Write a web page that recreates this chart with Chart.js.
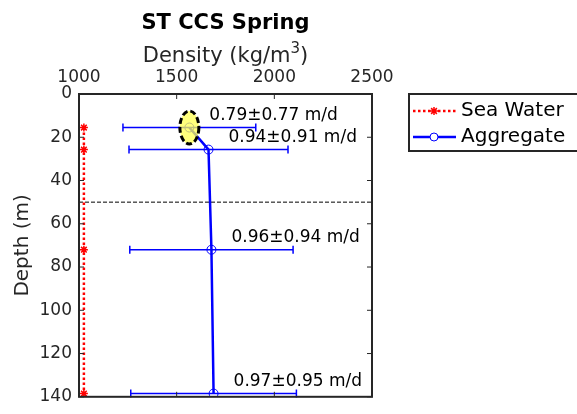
<!DOCTYPE html>
<html lang="en">
<head>
  <meta charset="UTF-8" />
  <title>ST CCS Spring</title>
  <style>
    html, body { margin: 0; padding: 0; background: #fff; }
    #wrap { position: relative; width: 577px; height: 414px; }
  </style>
  <script src="https://cdn.jsdelivr.net/npm/chart.js"></script>
</head>
<body>
  <div id="wrap"><canvas id="grafico"></canvas></div>

  <script>
    // sample depths (m)
    const depths = [15.5, 25.7, 72, 138.5];
    // sea water density (kg/m3)
    const seaDensity = [1025, 1025, 1025, 1025];
    // aggregate density and its spread (kg/m3)
    const aggDensity = [1565, 1663, 1678, 1689];
    const aggDensityErr = [340, 407, 418, 424];
    // sinking speed (m/d)
    const speedMean = [0.79, 0.94, 0.96, 0.97];
    const speedErr = [0.77, 0.91, 0.94, 0.95];
    const xTicks = [1000, 1500, 2000, 2500];
    const yTicks = [0, 20, 40, 60, 80, 100, 120, 140];
    const mixedLayerDepth = 50;
    const highlightIndex = 0;

    const FONT = "'DejaVu Sans', sans-serif";
    const AXIS = '#262626';
    const BLUE = '#0000ff';
    const RED = '#ff0000';

    function drawStar(ctx, cx, cy, r) {
      ctx.beginPath();
      ctx.moveTo(cx - r, cy); ctx.lineTo(cx + r, cy);
      ctx.moveTo(cx, cy - r); ctx.lineTo(cx, cy + r);
      const d = r * 0.72;
      ctx.moveTo(cx - d, cy - d); ctx.lineTo(cx + d, cy + d);
      ctx.moveTo(cx - d, cy + d); ctx.lineTo(cx + d, cy - d);
      ctx.stroke();
    }

    const extras = {
      id: 'extras',
      beforeDatasetsDraw(chart) {
        const { ctx, chartArea: a, scales: { x, y } } = chart;
        ctx.save();
        // title over the axes, centred on the plot box
        const cx = (a.left + a.right) / 2;
        ctx.fillStyle = '#000';
        ctx.textBaseline = 'alphabetic';
        ctx.textAlign = 'center';
        ctx.font = 'bold 21px ' + FONT;
        ctx.fillText('ST CCS Spring', cx, 29);

        // x axis label with a raised 3
        ctx.fillStyle = AXIS;
        ctx.textAlign = 'left';
        const big = '21px ' + FONT, small = '15px ' + FONT;
        ctx.font = big;
        const w1 = ctx.measureText('Density (kg/m').width;
        const w3 = ctx.measureText(')').width;
        ctx.font = small;
        const w2 = ctx.measureText('3').width;
        let tx = cx - (w1 + w2 + w3) / 2;
        ctx.font = big;
        ctx.fillText('Density (kg/m', tx, 62);
        tx += w1;
        ctx.font = small;
        ctx.fillText('3', tx, 53);
        tx += w2;
        ctx.font = big;
        ctx.fillText(')', tx, 62);

        // dashed mixed layer line
        const yl = y.getPixelForValue(mixedLayerDepth);
        ctx.strokeStyle = '#000';
        ctx.lineWidth = 1;
        ctx.setLineDash([4, 2]);
        ctx.beginPath();
        ctx.moveTo(a.left, yl); ctx.lineTo(a.right, yl);
        ctx.stroke();
        ctx.setLineDash([]);

        // error bars
        ctx.strokeStyle = BLUE;
        ctx.lineWidth = 1.5;
        aggDensity.forEach((d, i) => {
          const py = y.getPixelForValue(depths[i]);
          const x0 = x.getPixelForValue(d - aggDensityErr[i]);
          const x1 = x.getPixelForValue(d + aggDensityErr[i]);
          ctx.beginPath();
          ctx.moveTo(x0, py); ctx.lineTo(x1, py);
          ctx.moveTo(x0, py - 4); ctx.lineTo(x0, py + 4);
          ctx.moveTo(x1, py - 4); ctx.lineTo(x1, py + 4);
          ctx.stroke();
        });
        ctx.restore();
      },
      afterDatasetsDraw(chart) {
        const { ctx, chartArea: a, scales: { x, y } } = chart;
        ctx.save();

        // highlight ellipse on the shallowest sample
        const ex = x.getPixelForValue(aggDensity[highlightIndex]);
        const ey = y.getPixelForValue(depths[highlightIndex]);
        ctx.beginPath();
        ctx.ellipse(ex, ey, 9.5, 16.5, 0, 0, Math.PI * 2);
        ctx.fillStyle = 'rgba(255, 255, 80, 0.75)';
        ctx.fill();
        ctx.setLineDash([6, 3]);
        ctx.lineWidth = 3;
        ctx.strokeStyle = '#000';
        ctx.stroke();
        ctx.setLineDash([]);

        // speed labels
        ctx.fillStyle = '#000';
        ctx.font = '17px ' + FONT;
        ctx.textAlign = 'left';
        ctx.textBaseline = 'middle';
        speedMean.forEach((v, i) => {
          const px = x.getPixelForValue(aggDensity[i]) + 20;
          const py = y.getPixelForValue(depths[i]) - 12;
          ctx.fillText(v.toFixed(2) + '\u00b1' + speedErr[i].toFixed(2) + ' m/d', px, py);
        });

        // frame and inward ticks
        ctx.strokeStyle = AXIS;
        ctx.lineWidth = 1;
        ctx.beginPath();
        xTicks.forEach(t => {
          const px = x.getPixelForValue(t);
          ctx.moveTo(px, a.top); ctx.lineTo(px, a.top + 5);
          ctx.moveTo(px, a.bottom); ctx.lineTo(px, a.bottom - 5);
        });
        yTicks.forEach(t => {
          const py = y.getPixelForValue(t);
          ctx.moveTo(a.left, py); ctx.lineTo(a.left + 5, py);
          ctx.moveTo(a.right, py); ctx.lineTo(a.right - 5, py);
        });
        ctx.stroke();
        ctx.lineWidth = 2;
        ctx.strokeRect(a.left, a.top, a.right - a.left, a.bottom - a.top);

        // legend
        ctx.strokeRect(409, 94, 200, 57);
        ctx.strokeStyle = RED;
        ctx.lineWidth = 2.5;
        ctx.setLineDash([2.5, 2.5]);
        ctx.beginPath();
        ctx.moveTo(413, 111); ctx.lineTo(456, 111);
        ctx.stroke();
        ctx.setLineDash([]);
        ctx.lineWidth = 1.5;
        drawStar(ctx, 434, 111, 4);
        ctx.strokeStyle = BLUE;
        ctx.lineWidth = 2.5;
        ctx.beginPath();
        ctx.moveTo(413, 137); ctx.lineTo(456, 137);
        ctx.stroke();
        ctx.lineWidth = 1;
        ctx.fillStyle = '#fff';
        ctx.beginPath();
        ctx.arc(434, 137, 4, 0, Math.PI * 2);
        ctx.fill();
        ctx.stroke();
        ctx.fillStyle = '#000';
        ctx.font = '20px ' + FONT;
        ctx.fillText('Sea Water', 461, 111);
        ctx.fillText('Aggregate', 461, 137);
        ctx.restore();
      }
    };

    new Chart(document.getElementById('grafico'), {
      type: 'scatter',
      data: {
        datasets: [
          {
            label: 'Sea Water',
            data: depths.map((d, i) => ({ x: seaDensity[i], y: d })),
            showLine: true,
            borderColor: RED,
            borderWidth: 2.5,
            borderDash: [2.5, 2.5],
            pointStyle: 'star',
            pointRadius: 4,
            pointBorderWidth: 1.5,
            pointBorderColor: RED,
            backgroundColor: RED
          },
          {
            label: 'Aggregate',
            data: depths.map((d, i) => ({ x: aggDensity[i], y: d })),
            showLine: true,
            borderColor: BLUE,
            borderWidth: 2.5,
            pointStyle: 'circle',
            pointRadius: 4.5,
            pointBorderWidth: 1,
            pointBorderColor: BLUE,
            pointBackgroundColor: 'rgba(0,0,0,0)'
          }
        ]
      },
      options: {
        responsive: true,
        maintainAspectRatio: false,
        animation: false,
        layout: { padding: { left: 0, top: 0, right: 205, bottom: 6 } },
        plugins: {
          legend: { display: false },
          tooltip: { enabled: false },
          title: { display: false }
        },
        scales: {
          x: {
            type: 'linear',
            position: 'top',
            min: 1000,
            max: 2500,
            afterFit(s) { s.height = 94; },
            afterBuildTicks(s) { s.ticks = xTicks.map(v => ({ value: v })); },
            grid: { display: false, drawTicks: false },
            border: { display: false },
            ticks: {
              color: AXIS,
              padding: 6,
              maxRotation: 0,
              font: { family: FONT, size: 17 },
              callback: v => String(v)
            }
          },
          y: {
            type: 'linear',
            reverse: true,
            min: 0,
            max: 140,
            afterFit(s) { s.width = 79; },
            afterBuildTicks(s) { s.ticks = yTicks.map(v => ({ value: v })); },
            grid: { display: false, drawTicks: false },
            border: { display: false },
            ticks: { color: AXIS, padding: 7, font: { family: FONT, size: 17 } },
            title: {
              display: true,
              text: 'Depth (m)',
              color: AXIS,
              font: { family: FONT, size: 20 },
              padding: { top: 11, bottom: 0 }
            }
          }
        }
      },
      plugins: [extras]
    });
  </script>
</body>
</html>
